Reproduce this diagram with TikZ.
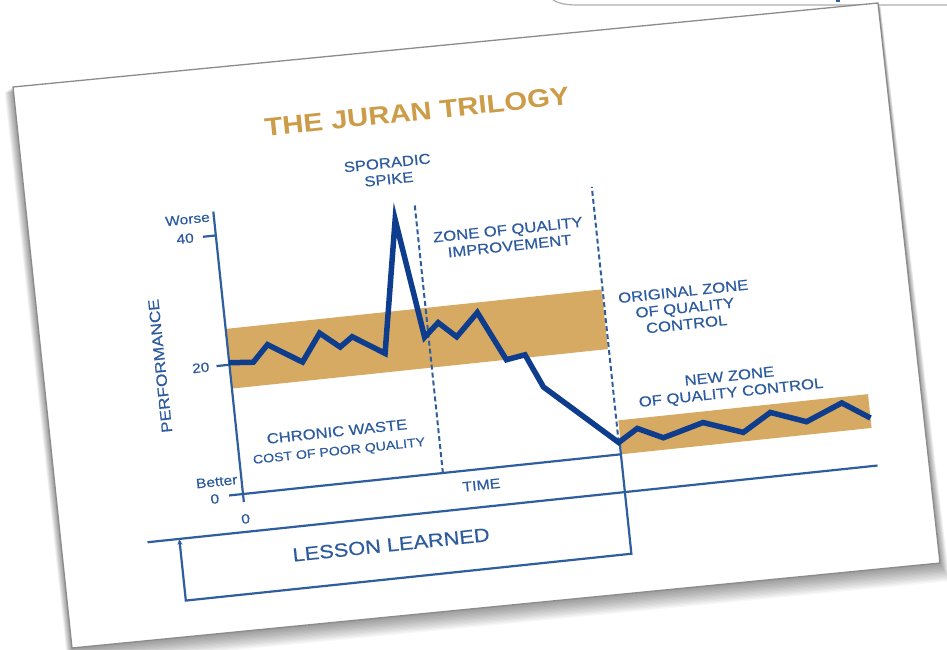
\documentclass[tikz,border=0pt]{standalone}
\usepackage{fontspec}
\setmainfont{Liberation Sans}
\newfontfamily\wf[FakeStretch=1.15,FakeBold=0.35]{Liberation Sans}
\newfontfamily\wt[FakeStretch=1.15]{Liberation Sans}
\usetikzlibrary{arrows.meta}
\definecolor{bandc}{HTML}{D6AA62}
\definecolor{curvec}{HTML}{0F3D8E}
\definecolor{axisc}{HTML}{2E5E9E}
\definecolor{txtc}{HTML}{2D5B9F}
\definecolor{goldc}{HTML}{CC9C48}
\definecolor{edgec}{HTML}{8C8C8C}
\begin{document}
\begin{tikzpicture}[x=1pt,y=-1pt,
  lbl/.style={text=txtc,font=\wf\fontsize{14.5}{16.5}\selectfont,align=center,inner sep=0pt},
  small/.style={text=txtc,font=\wf\fontsize{13.5}{15}\selectfont,inner sep=0pt},
  axisline/.style={draw=axisc,line width=2.2pt},
  dashline/.style={draw=axisc,line width=2pt,dash pattern=on 5pt off 3pt},
  curveline/.style={draw=curvec,line width=5.5pt,line join=miter,miter limit=12}]
\useasboundingbox (0,0) rectangle (947,649);
\fill[white] (0,0) rectangle (947,649);
\clip (0,0) rectangle (947,649);
% partial box at the top
\draw[edgec!70,line width=1.2pt] (553,0) .. controls (560,4) and (566,5) .. (580,5) -- (947,5);
\fill[axisc] (836,0) rectangle (840,2);
% shadow
\foreach \i in {1,...,14}{
  \fill[black,opacity=0.03] ({13-0.6*\i},{87+0.4*\i}) -- ({878+0.2*\i},{3+0.3*\i}) -- ({940+0.7*\i},{563+1.3*\i}) -- ({72-0.3*\i},{648+1.3*\i}) -- cycle;
}
% card
\filldraw[fill=white,draw=edgec,line width=1.3pt] (13,87) coordinate (cTL) -- (878,3) coordinate (cTR) -- (940,563) coordinate (cBR) -- (72,648) coordinate (cBL) -- cycle;
% chart
\begin{scope}[shift={(243,494)},y=1pt,rotate=6,transform shape]
  \fill[bandc] (0,106) rectangle (378,166);
  \fill[bandc] (381,0) rectangle (632,34);
  % axes
  \coordinate (o) at (0,0);
  \coordinate (ytop) at (0,284);
  \coordinate (ybot) at (0,-8);
  \draw[axisline] (ybot) -- (ytop);
  \draw[axisline] (-14,0) -- (o);
  \draw[axisline] (-13,130) -- (0,130);
  \draw[axisline] (-13,260) -- (0,260);
  \coordinate (tend) at (380,0);
  \draw[axisline] (o) -- (tend);
  \coordinate (lla) at (-100,-38);
  \coordinate (llb) at (634,-38);
  \draw[axisline] (lla) -- (llb);
  \coordinate (v1) at (380,12);
  \coordinate (v2) at (380,-100);
  \coordinate (v3) at (-68,-100);
  \coordinate (v4) at (-68,-38);
  \draw[axisline,-{Stealth[length=6pt,width=5pt]}] (v1) -- (v2) -- (v3) -- (v4);
  % dashed
  \draw[dashline] (201,0) -- (201,270);
  \draw[dashline] (379,12) -- (379,269);
  % curve
  \draw[curveline] (0,132) -- (24,130) -- (40,146) -- (73,125) -- (93,152) -- (112,136) -- (125,145) -- (156,125) -- (180,257) -- (197,137) -- (212,150) -- (229,134) -- (252,156) -- (276,106) -- (295,109) -- (310,75) -- (379,12) -- (399,24) -- (424,12) -- (465,23) -- (504,9) -- (533,26) -- (568,13) -- (605,28) -- (632,10);
  % texts
  \node[text=goldc,font=\wt\bfseries\fontsize{25.5}{28}\selectfont,inner sep=0pt] (title) at (213,362) {THE JURAN TRILOGY};
  \node[lbl] (spike) at (178,306) {SPORADIC\\SPIKE};
  \node[lbl] (zqi) at (291,227) {ZONE OF QUALITY\\IMPROVEMENT};
  \node[lbl] (ozc) at (459,139) {ORIGINAL ZONE\\OF QUALITY\\CONTROL};
  \node[lbl] (nzc) at (496,57) {NEW ZONE\\OF QUALITY CONTROL};
  \node[lbl] (chronic) at (100,42) {CHRONIC WASTE\\[2pt]{\fontsize{12.3}{14}\selectfont COST OF POOR QUALITY}};
  \node[lbl,font=\wf\fontsize{13.8}{15}\selectfont] (time) at (238,-16) {TIME};
  \node[small] (zero) at (0,-25) {0};
  \node[lbl,font=\wf\fontsize{19}{21}\selectfont] (lesson) at (142,-66) {LESSON LEARNED};
  \node[lbl,font=\wf\fontsize{15}{17}\selectfont,rotate=90] (perf) at (-69,136) {PERFORMANCE};
  \node[small,anchor=east] (worse) at (-4,279) {Worse};
  \node[small,anchor=east] (l40) at (-22,260) {40};
  \node[small,anchor=east] (l20) at (-20,130) {20};
  \node[small,anchor=east] (better) at (-4,15) {Better};
  \node[small,anchor=east] (l0) at (-24,-2) {0};
\end{scope}
\end{tikzpicture}
\end{document}
